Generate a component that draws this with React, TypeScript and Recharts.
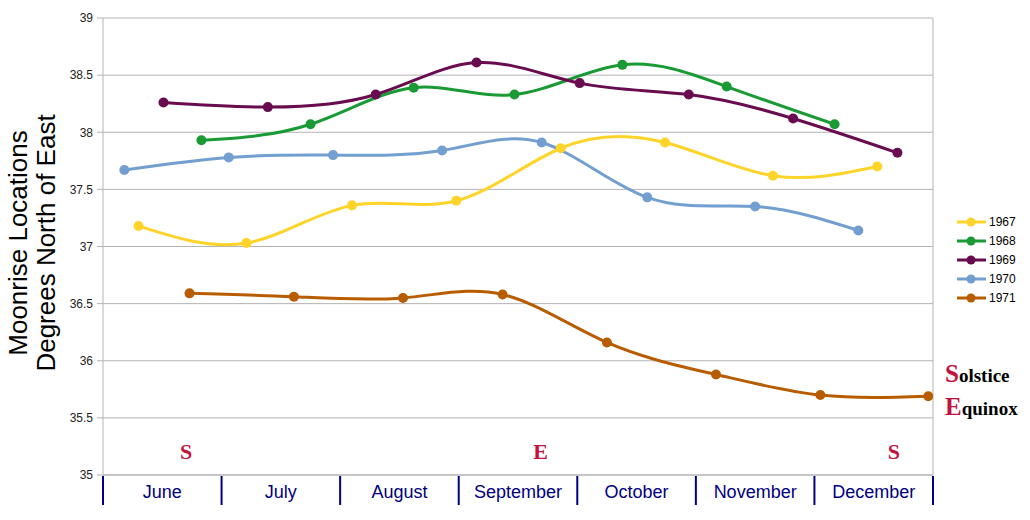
import React from 'react';
import {
  LineChart,
  Line,
  XAxis,
  YAxis,
  CartesianGrid,
  ReferenceLine,
  ReferenceDot
} from 'recharts';

// x is measured in months from the start of June (0 = June 1, 7 = end of December)
const months = ['June', 'July', 'August', 'September', 'October', 'November', 'December'];
const yTicks = [35, 35.5, 36, 36.5, 37, 37.5, 38, 38.5, 39];

const x1967 = [0.3, 1.21, 2.1, 2.98, 3.86, 4.74, 5.65, 6.53];
const y1967 = [37.18, 37.03, 37.36, 37.4, 37.86, 37.91, 37.62, 37.7];

const x1968 = [0.83, 1.75, 2.62, 3.47, 4.38, 5.26, 6.17];
const y1968 = [37.93, 38.07, 38.39, 38.33, 38.59, 38.4, 38.07];

const x1969 = [0.51, 1.39, 2.3, 3.15, 4.02, 4.94, 5.82, 6.7];
const y1969 = [38.26, 38.22, 38.33, 38.61, 38.43, 38.33, 38.12, 37.82];

const x1970 = [0.18, 1.06, 1.94, 2.86, 3.7, 4.59, 5.5, 6.37];
const y1970 = [37.67, 37.78, 37.8, 37.84, 37.91, 37.43, 37.35, 37.14];

const x1971 = [0.73, 1.61, 2.53, 3.37, 4.25, 5.17, 6.05, 6.96];
const y1971 = [36.59, 36.56, 36.55, 36.58, 36.16, 35.88, 35.7, 35.69];

const markerLetters = ['S', 'E', 'S'];
const markerX = [0.7, 3.69, 6.67];
const markerY = 35.2;

const zip = (xs: number[], ys: number[]) => xs.map((x, i) => ({ x, y: ys[i] }));

const series = [
  { name: '1967', color: '#ffd42a', data: zip(x1967, y1967) },
  { name: '1968', color: '#1a9a35', data: zip(x1968, y1968) },
  { name: '1969', color: '#680c4f', data: zip(x1969, y1969) },
  { name: '1970', color: '#729fcf', data: zip(x1970, y1970) },
  { name: '1971', color: '#b85c00', data: zip(x1971, y1971) }
];

const xTicks = Array.from({ length: months.length * 2 + 1 }, (_, i) => i / 2);

const RED = '#c4123f';
const NAVY = '#000080';
const GRID = '#b3b3b3';
const sans = 'Liberation Sans, Arial, sans-serif';
const serif = 'Liberation Serif, Times New Roman, serif';

function MonthTick(props: any) {
  const { x, y, payload } = props;
  const v = payload.value as number;
  if (Number.isInteger(v)) {
    return <line x1={x} x2={x} y1={y + 1} y2={y + 30} stroke={NAVY} strokeWidth={2} />;
  }
  return (
    <text x={x} y={y + 23} textAnchor="middle" fill={NAVY} fontSize={18} fontFamily={sans}>
      {months[Math.floor(v)]}
    </text>
  );
}

function YLabel() {
  const cy = 243;
  return (
    <g fontFamily={sans} fontSize={26} fill="#000">
      <text x={27} y={cy} textAnchor="middle" transform={`rotate(-90 27 ${cy})`}>
        Moonrise Locations
      </text>
      <text x={55} y={cy} textAnchor="middle" transform={`rotate(-90 55 ${cy})`}>
        Degrees North of East
      </text>
    </g>
  );
}

function SeriesLegend() {
  return (
    <div style={{ position: 'absolute', left: 956, top: 212, fontFamily: sans, fontSize: 12, color: '#000' }}>
      {series.map((s) => (
        <div key={s.name} style={{ display: 'flex', alignItems: 'center', height: 19 }}>
          <svg width={32} height={12}>
            <line x1={1} x2={30} y1={6} y2={6} stroke={s.color} strokeWidth={3} />
            <circle cx={15} cy={6} r={4.5} fill={s.color} />
          </svg>
          <span style={{ marginLeft: 1 }}>{s.name}</span>
        </div>
      ))}
    </div>
  );
}

function Marker(props: any) {
  const { viewBox, value } = props;
  const cx = viewBox.x + (viewBox.width || 0) / 2;
  const cy = viewBox.y + (viewBox.height || 0) / 2;
  return (
    <text x={cx} y={cy + 7} textAnchor="middle" fill={RED} fontSize={22} fontWeight="bold" fontFamily={serif}>
      {value}
    </text>
  );
}

export default function App() {
  return (
    <div style={{ position: 'absolute', left: 0, top: 0, width: 1030, height: 520, background: '#fff' }}>
      <LineChart width={1030} height={520} margin={{ top: 18, right: 97, bottom: 0, left: 0 }}>
        <CartesianGrid vertical={false} stroke={GRID} />
        <XAxis
          dataKey="x"
          type="number"
          domain={[0, 7]}
          ticks={xTicks}
          interval={0}
          tick={<MonthTick />}
          tickLine={false}
          tickSize={0}
          tickMargin={0}
          height={45}
          axisLine={{ stroke: GRID }}
          allowDataOverflow
        />
        <YAxis
          type="number"
          domain={[35, 39]}
          ticks={yTicks}
          interval={0}
          width={103}
          tickSize={6}
          tickMargin={4}
          axisLine={{ stroke: GRID }}
          tickLine={{ stroke: GRID }}
          tick={{ fill: '#222', fontSize: 12, fontFamily: sans }}
          label={<YLabel />}
        />
        <ReferenceLine x={7} stroke={GRID} />
        {series.map((s) => (
          <Line
            key={s.name}
            data={s.data}
            dataKey="y"
            name={s.name}
            type="natural"
            stroke={s.color}
            strokeWidth={3}
            dot={{ r: 5, fill: s.color, stroke: 'none' }}
            activeDot={false}
            isAnimationActive={false}
          />
        ))}
        {markerX.map((mx, i) => (
          <ReferenceDot key={i} x={mx} y={markerY} r={0} stroke="none" fill="none" label={<Marker value={markerLetters[i]} />} />
        ))}
      </LineChart>
      <SeriesLegend />
      <div style={{ position: 'absolute', left: 945, top: 359, fontFamily: serif, fontWeight: 'bold', lineHeight: '30px' }}>
        <div>
          <span style={{ color: RED, fontSize: 25 }}>S</span>
          <span style={{ color: '#000', fontSize: 19 }}>olstice</span>
        </div>
        <div>
          <span style={{ color: RED, fontSize: 25 }}>E</span>
          <span style={{ color: '#000', fontSize: 19 }}>quinox</span>
        </div>
      </div>
    </div>
  );
}
